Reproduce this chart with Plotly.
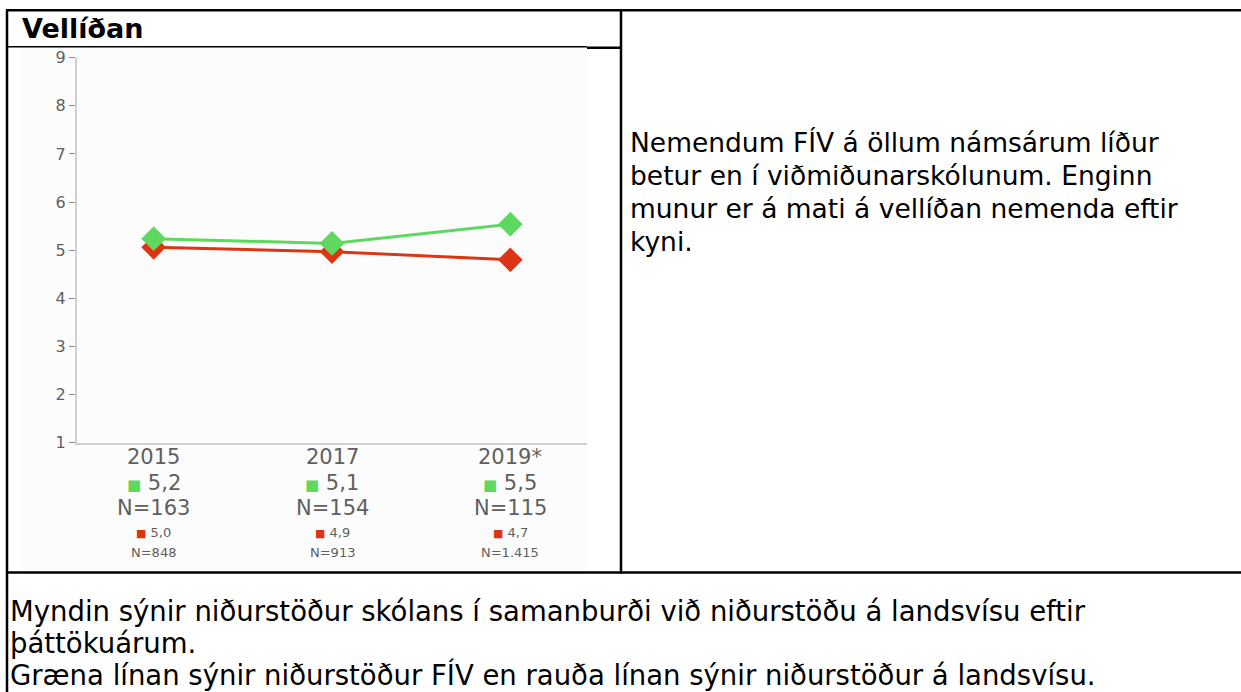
import plotly.graph_objects as go

# ---- data ----
years = ["2015", "2017", "2019*"]
school_values = [5.24, 5.14, 5.54]      # FÍV (green line)
national_values = [5.06, 4.97, 4.80]    # landsvísu (red line)
school_labels = ["5,2", "5,1", "5,5"]
school_n = ["N=163", "N=154", "N=115"]
national_labels = ["5,0", "4,9", "4,7"]
national_n = ["N=848", "N=913", "N=1.415"]
y_ticks = [1, 2, 3, 4, 5, 6, 7, 8, 9]

title_text = "Vellíðan"
right_lines = [
    "Nemendum FÍV á öllum námsárum líður",
    "betur en í viðmiðunarskólunum. Enginn",
    "munur er á mati á vellíðan nemenda eftir",
    "kyni.",
]
bottom_lines = [
    "Myndin sýnir niðurstöður skólans í samanburði við niðurstöðu á landsvísu eftir",
    "þáttökuárum.",
    "Græna línan sýnir niðurstöður FÍV en rauða línan sýnir niðurstöður á landsvísu.",
]

GREEN = "#5ed85e"
RED = "#dd3514"
W, H = 1241, 692
FONT = "DejaVu Sans, sans-serif"
CFONT = "DejaVu Sans, sans-serif"
GRAY = "#5f5f5f"

# the photographed page is shown with a small vertical offset/scale;
# positions below are in picture pixels and converted here
Y_OFF, Y_SCALE = 8.2, 0.973


def px(x):
    return x / W


def py(y):
    return 1 - ((y - Y_OFF) / Y_SCALE) / H


fig = go.Figure()
fig.add_trace(go.Scatter(
    x=years, y=national_values, mode="lines+markers",
    line=dict(color=RED, width=3),
    marker=dict(symbol="diamond", size=19, color=RED),
    showlegend=False, hoverinfo="skip"))
fig.add_trace(go.Scatter(
    x=years, y=school_values, mode="lines+markers",
    line=dict(color=GREEN, width=3),
    marker=dict(symbol="diamond", size=19, color=GREEN),
    showlegend=False, hoverinfo="skip"))

shapes = []
shapes.append(dict(type="rect", xref="paper", yref="paper", layer="below",
                   x0=px(20), x1=px(587), y0=py(570), y1=py(47),
                   fillcolor="#fcfcfc", line=dict(width=0)))


def hline(y, x0, x1, w):
    shapes.append(dict(type="line", xref="paper", yref="paper",
                       x0=px(x0), x1=px(x1), y0=py(y), y1=py(y),
                       line=dict(color="black", width=w)))


def vline(x, y0, y1, w):
    shapes.append(dict(type="line", xref="paper", yref="paper",
                       x0=px(x), x1=px(x), y0=py(y0), y1=py(y1),
                       line=dict(color="black", width=w)))


hline(9.5, 6, 1241, 2.5)
vline(7, 9, 700, 2.5)
hline(46, 7, 587, 1.5)
hline(47, 587, 622, 2.5)
vline(621, 9, 573, 2.5)
hline(572, 6, 1241, 2.5)

annotations = []
annotations.append(dict(text="<b>" + title_text + "</b>", xref="paper", yref="paper",
                        x=px(20), y=py(28), xanchor="left", yanchor="middle",
                        showarrow=False, font=dict(family=FONT, size=27, color="black")))
for i, line in enumerate(right_lines):
    annotations.append(dict(text=line, xref="paper", yref="paper",
                            x=px(628), y=py(142 + i * 33), xanchor="left", yanchor="middle",
                            showarrow=False, font=dict(family=FONT, size=26.5, color="black")))
for i, line in enumerate(bottom_lines):
    annotations.append(dict(text=line, xref="paper", yref="paper",
                            x=px(8), y=py(610 + i * 32), xanchor="left", yanchor="middle",
                            showarrow=False, font=dict(family=FONT, size=27.5, color="black")))

for i, yr in enumerate(years):
    annotations.append(dict(text=yr, xref="x", yref="paper", x=i, y=py(456),
                            showarrow=False, yanchor="middle",
                            font=dict(family=CFONT, size=21, color=GRAY)))
    annotations.append(dict(text=f"<span style='color:{GREEN};font-size:15px'>■</span> {school_labels[i]}",
                            xref="x", yref="paper", x=i, y=py(482),
                            showarrow=False, yanchor="middle",
                            font=dict(family=CFONT, size=21, color=GRAY)))
    annotations.append(dict(text=school_n[i], xref="x", yref="paper", x=i, y=py(507),
                            showarrow=False, yanchor="middle",
                            font=dict(family=CFONT, size=21, color=GRAY)))
    annotations.append(dict(text=f"<span style='color:{RED};font-size:11px'>■</span> {national_labels[i]}",
                            xref="x", yref="paper", x=i, y=py(532),
                            showarrow=False, yanchor="middle",
                            font=dict(family=CFONT, size=13, color=GRAY)))
    annotations.append(dict(text=national_n[i], xref="x", yref="paper", x=i, y=py(552),
                            showarrow=False, yanchor="middle",
                            font=dict(family=CFONT, size=13, color=GRAY)))

fig.update_layout(
    width=W, height=H,
    margin=dict(l=0, r=0, t=0, b=0),
    paper_bgcolor="white", plot_bgcolor="rgba(0,0,0,0)",
    shapes=shapes, annotations=annotations,
    xaxis=dict(domain=[px(77), px(587)], range=[-0.43, 2.43], type="category",
               showline=True, linecolor="#d0d0d0", linewidth=2,
               showgrid=False, zeroline=False, showticklabels=False, ticks=""),
    yaxis=dict(domain=[py(442), py(57)], range=[1, 9], tickvals=y_ticks,
               showline=True, linecolor="#d0d0d0", linewidth=2,
               showgrid=False, zeroline=False,
               ticks="outside", ticklen=6, tickcolor="#8a8a8a", tickwidth=1,
               tickfont=dict(family=CFONT, size=16, color=GRAY)),
)

fig.write_html(
    "out.html",
    config={"displayModeBar": False, "staticPlot": True},
    post_script=(
        "var d=document.getElementById('{plot_id}');"
        "d.style.position='fixed';d.style.top='0px';d.style.left='0px';"
        "document.documentElement.style.margin='0';"
        "document.documentElement.style.overflow='hidden';"
        "document.body.style.margin='0';document.body.style.padding='0';"
        "document.body.style.overflow='hidden';"
    ),
)
